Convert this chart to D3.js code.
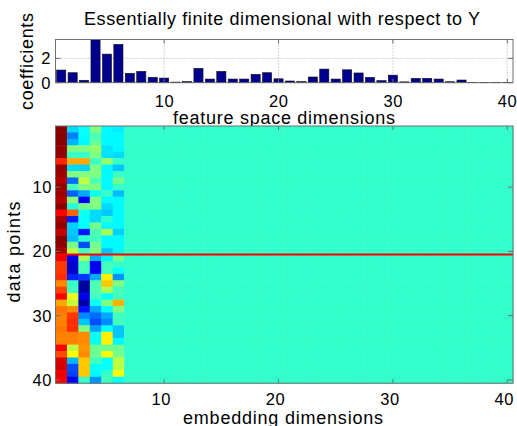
<!DOCTYPE html>
<html>
<head>
<meta charset="utf-8">
<script src="https://cdn.jsdelivr.net/npm/d3@7"></script>
<style>
body { margin: 0; background: #fff; }
text { font-family: "Liberation Sans", Arial, Helvetica, sans-serif; fill: #000; }
.tick { font-size: 16.5px; letter-spacing: 0.6px; }
.label { font-size: 18px; }
</style>
</head>
<body>
<script>
var width = 517;
var height = 426;

// regression coefficients per feature space dimension
var featureDims = d3.range(1, 41);
var coefficients = [1.04, 0.82, 0.2, 3.55, 2.35, 3.15, 0.77, 0.93, 0.44, 0.38,
                    0.05, 0.1, 1.18, 0.3, 0.93, 0.3, 0.3, 0.69, 0.82, 0.32,
                    0.14, 0.1, 0.47, 1.12, 0.3, 1.06, 0.8, 0.44, 0.17, 0.62,
                    0.07, 0.36, 0.36, 0.3, 0.08, 0.22, 0.02, 0.02, 0.02, 0.02];
var coefTicks = [0, 2];
var dimTicks = [10, 20, 30, 40];

// embedding of the 40 data points (colour level, 0..1); only the first six
// embedding dimensions carry anything, the rest sit at restLevel
var nDims = 40;
var restLevel = 0.425;
var emb1 = [0.99, 0.99, 0.99, 0.98, 0.98, 0.84, 0.98, 0.97, 0.95, 0.98,
            0.97, 0.95, 0.99, 0.875, 0.96, 0.98, 0.93, 0.99, 0.98, 0.97,
            0.89, 0.82, 0.82, 0.83, 0.74, 0.81, 0.88, 0.71, 0.76, 0.75,
            0.75, 0.76, 0.75, 0.75, 0.88, 0.8, 0.91, 0.92, 0.89, 0.88];
var emb2 = [0.34, 0.25, 0.3, 0.5, 0.43, 0.71, 0.34, 0.5, 0.23, 0.44,
            0.22, 0.51, 0.41, 0.78, 0.155, 0.33, 0.32, 0.31, 0.49, 0.56,
            0.11, 0.08, 0.07, 0.16, 0.43, 0.44, 0.6, 0.57, 0.74, 0.82,
            0.83, 0.83, 0.75, 0.75, 0.56, 0.62, 0.3, 0.2, 0.19, 0.11];
var emb3 = [0.38, 0.38, 0.37, 0.5, 0.43, 0.71, 0.33, 0.5, 0.56, 0.5,
            0.29, 0.125, 0.49, 0.39, 0.38, 0.38, 0.145, 0.42, 0.2, 0.44,
            0.54, 0.44, 0.44, 0.18, 0.03, 0.04, 0.11, 0.04, 0.14, 0.26,
            0.32, 0.5, 0.74, 0.74, 0.73, 0.74, 0.68, 0.68, 0.68, 0.43];
var emb4 = [0.5, 0.45, 0.47, 0.52, 0.5, 0.43, 0.5, 0.5, 0.45, 0.5,
            0.39, 0.5, 0.5, 0.34, 0.34, 0.49, 0.45, 0.44, 0.49, 0.5,
            0.29, 0.11, 0.12, 0.29, 0.45, 0.45, 0.44, 0.38, 0.29, 0.23,
            0.2, 0.28, 0.38, 0.38, 0.48, 0.48, 0.44, 0.38, 0.37, 0.27];
var emb5 = [0.37, 0.37, 0.37, 0.35, 0.35, 0.52, 0.37, 0.37, 0.37, 0.37,
            0.43, 0.37, 0.34, 0.32, 0.42, 0.37, 0.54, 0.37, 0.37, 0.32,
            0.36, 0.44, 0.44, 0.64, 0.68, 0.54, 0.38, 0.5, 0.38, 0.29,
            0.26, 0.38, 0.64, 0.64, 0.48, 0.63, 0.38, 0.38, 0.43, 0.44];
var emb6 = [0.36, 0.37, 0.37, 0.37, 0.34, 0.43, 0.32, 0.43, 0.49, 0.43,
            0.31, 0.37, 0.37, 0.37, 0.37, 0.37, 0.33, 0.37, 0.37, 0.37,
            0.49, 0.43, 0.38, 0.27, 0.5, 0.44, 0.44, 0.7, 0.5, 0.44,
            0.44, 0.32, 0.32, 0.37, 0.48, 0.49, 0.56, 0.56, 0.62, 0.38];
var embedding = [emb1, emb2, emb3, emb4, emb5, emb6];
var pointTicks = [10, 20, 30, 40];
var splitRow = 20.5;

// matlab style jet colormap
function jet(t) {
    var c = (v) => Math.max(0, Math.min(1, v)) * 255;
    return d3.rgb(c(1.5 - Math.abs(4 * t - 3)), c(1.5 - Math.abs(4 * t - 2)), c(1.5 - Math.abs(4 * t - 1)));
}
var colour = d3.scaleSequential(jet).domain([0, 1]).clamp(true);

var svg = d3.select("body")
    .append("svg")
    .attr("width", width)
    .attr("height", height);

var left = 55.5, right = 513;

// ---- top: bar chart of coefficients ----
var barTop = 39.5, barBottom = 82.7;
var xb = d3.scaleLinear().domain([0.5, 40.5]).range([left, right]);
var yb = d3.scaleLinear().domain([0, d3.max(coefficients)]).range([barBottom, barTop]);

var gBar = svg.append("g");

// dotted grid
gBar.selectAll("line.vgrid")
    .data(dimTicks)
    .enter().append("line")
    .attr("class", "vgrid")
    .attr("x1", (d) => xb(d)).attr("x2", (d) => xb(d))
    .attr("y1", barTop).attr("y2", barBottom)
    .attr("stroke", "#aaa").attr("stroke-dasharray", "1,2");
gBar.selectAll("line.hgrid")
    .data(coefTicks.filter((d) => d > 0))
    .enter().append("line")
    .attr("class", "hgrid")
    .attr("x1", left).attr("x2", right)
    .attr("y1", (d) => yb(d)).attr("y2", (d) => yb(d))
    .attr("stroke", "#aaa").attr("stroke-dasharray", "1,2");

var bw = (xb(1) - xb(0)) * 0.8;
gBar.selectAll("rect.bar")
    .data(coefficients)
    .enter().append("rect")
    .attr("class", "bar")
    .attr("x", (d, i) => xb(featureDims[i]) - bw / 2)
    .attr("width", bw)
    .attr("y", (d) => yb(d))
    .attr("height", (d) => barBottom - yb(d))
    .attr("fill", "#00008f")
    .attr("stroke", "#111")
    .attr("stroke-width", 0.6);

function frame(g, x0, x1, y0, y1, xs, ys, xt, yt) {
    g.append("rect")
        .attr("x", x0).attr("y", y0)
        .attr("width", x1 - x0).attr("height", y1 - y0)
        .attr("fill", "none").attr("stroke", "#6f6f6f").attr("stroke-width", 1);
    // inward ticks on all four sides
    xt.forEach((d) => {
        g.append("line").attr("x1", xs(d)).attr("x2", xs(d)).attr("y1", y1).attr("y2", y1 - 4).attr("stroke", "#6f6f6f");
        g.append("line").attr("x1", xs(d)).attr("x2", xs(d)).attr("y1", y0).attr("y2", y0 + 4).attr("stroke", "#6f6f6f");
    });
    yt.forEach((d) => {
        g.append("line").attr("x1", x0).attr("x2", x0 + 5).attr("y1", ys(d)).attr("y2", ys(d)).attr("stroke", "#6f6f6f");
        g.append("line").attr("x1", x1).attr("x2", x1 - 5).attr("y1", ys(d)).attr("y2", ys(d)).attr("stroke", "#6f6f6f");
    });
}
frame(gBar, left, right, barTop, barBottom, xb, yb, dimTicks, coefTicks);

gBar.selectAll("text.xt")
    .data(dimTicks)
    .enter().append("text")
    .attr("class", "tick")
    .attr("x", (d) => xb(d) + 0.3).attr("y", 107)
    .attr("text-anchor", "middle")
    .text((d) => d);
gBar.selectAll("text.yt")
    .data(coefTicks)
    .enter().append("text")
    .attr("class", "tick")
    .attr("x", 51).attr("y", (d) => yb(d) + 6)
    .attr("text-anchor", "end")
    .text((d) => d);

function label(x, y, rot, len, str) {
    svg.append("text")
        .attr("class", "label")
        .attr("transform", `translate(${x},${y}) rotate(${rot})`)
        .attr("text-anchor", "middle")
        .attr("textLength", len)
        .attr("lengthAdjust", "spacing")
        .text(str);
}
label(282, 24.5, 0, 396, "Essentially finite dimensional with respect to Y");
label(284, 123.5, 0, 222, "feature space dimensions");
label(33, 61.5, -90, 97, "coefficients");

// ---- bottom: embedding image ----
var imgTop = 126, imgBottom = 383.2;
var xi = d3.scaleLinear().domain([0.5, nDims + 0.5]).range([left, right]);
var yi = d3.scaleLinear().domain([0.5, 40.5]).range([imgTop, imgBottom]);

var cells = [];
emb1.forEach((v, r) => {
    for (var c = 0; c < nDims; c++) {
        cells.push({ row: r + 1, col: c + 1, value: c < embedding.length ? embedding[c][r] : restLevel });
    }
});

var gImg = svg.append("g");
var cw = xi(1.5) - xi(0.5), ch = yi(1.5) - yi(0.5);
gImg.selectAll("rect.cell")
    .data(cells)
    .enter().append("rect")
    .attr("class", "cell")
    .attr("x", (d) => xi(d.col - 0.5))
    .attr("y", (d) => yi(d.row - 0.5))
    .attr("width", cw + 0.5)
    .attr("height", ch + 0.5)
    .attr("fill", (d) => colour(d.value));

gImg.append("line")
    .attr("x1", left).attr("x2", right)
    .attr("y1", yi(splitRow)).attr("y2", yi(splitRow))
    .attr("stroke", "#ff0000").attr("stroke-width", 2);

frame(gImg, left, right, imgTop, imgBottom, xi, yi, dimTicks, pointTicks);

gImg.selectAll("text.xt")
    .data(dimTicks)
    .enter().append("text")
    .attr("class", "tick")
    .attr("x", (d) => xi(d) - 3).attr("y", 405)
    .attr("text-anchor", "middle")
    .text((d) => d);
gImg.selectAll("text.yt")
    .data(pointTicks)
    .enter().append("text")
    .attr("class", "tick")
    .attr("x", 52).attr("y", (d) => yi(d) + 6)
    .attr("text-anchor", "end")
    .text((d) => d);

label(283, 423.5, 0, 200, "embedding dimensions");
label(20, 252, -90, 101, "data points");
</script>
</body>
</html>
